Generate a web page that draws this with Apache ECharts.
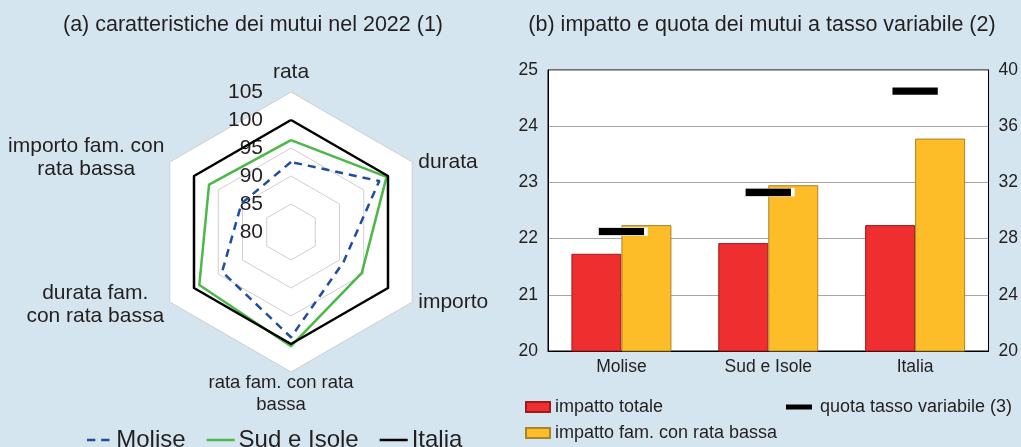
<!DOCTYPE html>
<html>
<head>
<meta charset="utf-8">
<script src="https://cdn.jsdelivr.net/npm/echarts@6/dist/echarts.min.js"></script>
<style>
html,body{margin:0;padding:0;background:#d4e5ef;}
#c{width:1021px;height:447px;}
</style>
</head>
<body>
<div id="c"></div>
<script>
// ---- Panel (a): radar, indicators listed clockwise from top ----
const radarIndicators = ['rata', 'durata', 'importo', 'rata fam. con rata\nbassa', 'durata fam.\ncon rata bassa', 'importo fam. con\nrata bassa'];
const radarMolise = [92.5, 98.2, 90.8, 98.8, 94.2, 90.2];
const radarSud = [96.4, 99.7, 94.6, 100.4, 98.9, 96.9];
const radarItalia = [100, 100, 100, 100, 100, 100];
const radarTicks = [80, 85, 90, 95, 100, 105];

// ---- Panel (b): bars + dashes ----
const barCategories = ['Molise', 'Sud e Isole', 'Italia'];
const impattoTotale = [21.73, 21.92, 22.24];
const impattoFamRataBassa = [22.24, 22.95, 23.78];
const quotaTassoVariabile = [28.5, 31.3, 38.5];

const FONT = 'Liberation Sans, Arial, sans-serif';
const TXT = '#231f20';

// ECharts draws radar indicators counter-clockwise; reorder clockwise list
const ccw = [0, 5, 4, 3, 2, 1];
const reorder = arr => ccw.map(i => arr[i]);

const nameStyles = [
  {padding: [0, 0, 8, 0]},                                   // rata
  {padding: [0, 0, 10, 6]},                                  // durata
  {padding: [6, 0, 0, 6]},                                   // importo
  {padding: [0, 20, 0, 0], fontSize: 18.5, lineHeight: 22},  // rata fam.
  {padding: [6, 0, 0, 0], richW: 149},                       // durata fam.
  {padding: [0, 0, 8, 0], richW: 167}                        // importo fam.
];

const indicators = ccw.map((i, k) => {
  const s = nameStyles[i];
  const name = radarIndicators[i];
  const ind = {name: name, min: radarTicks[0], max: radarTicks[radarTicks.length - 1]};
  const nts = {padding: s.padding};
  if (s.fontSize) { nts.fontSize = s.fontSize; nts.lineHeight = s.lineHeight; }
  if (s.richW) {
    ind.name = name.split('\n').map(l => '{c|' + l + '}').join('\n');
    nts.rich = {c: {width: s.richW, align: 'center', fontSize: 21, fontFamily: FONT, color: TXT, lineHeight: 23}};
  }
  ind.nameTextStyle = nts;
  if (k === 0) {
    ind.axisLabel = {show: true};
  }
  return ind;
});

const chart = echarts.init(document.getElementById('c'));
chart.setOption({
  backgroundColor: '#d4e5ef',
  animation: false,
  textStyle: {fontFamily: FONT},
  title: [
    {text: '(a) caratteristiche dei mutui nel 2022 (1)', left: 253, top: 14, textAlign: 'center', padding: 0,
     textStyle: {fontSize: 21.5, fontWeight: 'normal', color: TXT, fontFamily: FONT}},
    {text: '(b) impatto e quota dei mutui a tasso variabile (2)', left: 762, top: 14, textAlign: 'center', padding: 0,
     textStyle: {fontSize: 21.5, fontWeight: 'normal', color: TXT, fontFamily: FONT}}
  ],
  legend: [
    {
      data: [
        {name: 'Molise', icon: 'path://M0,0h10v3h-10zM17,0h10v3h-10z'},
        {name: 'Sud e Isole', icon: 'rect'},
        {name: 'Italia', icon: 'rect'}
      ],
      left: 87, top: 428, padding: 0, itemWidth: 28, itemHeight: 2.5, itemGap: 21,
      textStyle: {fontSize: 24, color: TXT, fontFamily: FONT, lineHeight: 24, padding: [0, 0, 0, -1]}
    },
    {
      data: ['impatto totale', 'impatto fam. con rata bassa'],
      orient: 'vertical', left: 525, top: 398, padding: 0, itemWidth: 24, itemHeight: 10, itemGap: 8,
      icon: 'rect',
      textStyle: {fontSize: 18, color: TXT, fontFamily: FONT, lineHeight: 18}
    },
    {
      data: [{name: 'quota tasso variabile (3)', icon: 'rect'}],
      left: 786, top: 398, padding: 0, itemWidth: 26, itemHeight: 5,
      itemStyle: {borderWidth: 0},
      textStyle: {fontSize: 18, color: TXT, fontFamily: FONT, lineHeight: 18, padding: [0, 0, 0, 3]}
    }
  ],
  radar: {
    center: [291, 232],
    radius: 140,
    splitNumber: radarTicks.length - 1,
    indicator: indicators,
    nameGap: 0,
    axisName: {color: TXT, fontSize: 21, fontFamily: FONT, lineHeight: 23},
    axisLine: {show: false},
    axisTick: {show: false},
    axisLabel: {show: false, fontSize: 21, color: '#231f20', margin: 28, fontFamily: FONT},
    splitLine: {lineStyle: {color: '#cfcfcf', width: 1}},
    splitArea: {show: true, areaStyle: {color: ['#ffffff']}}
  },
  grid: {
    left: 548, right: 32, top: 70, bottom: 96,
    show: true, backgroundColor: '#ffffff', borderColor: '#000', borderWidth: 1
  },
  xAxis: {
    type: 'category', data: barCategories,
    axisLine: {show: true, lineStyle: {color: '#000'}},
    axisTick: {show: false},
    axisLabel: {fontSize: 17.5, color: TXT, margin: 7, fontFamily: FONT}
  },
  yAxis: [
    {type: 'value', min: 20, max: 25, interval: 1,
     axisLine: {show: true, lineStyle: {color: '#000'}}, axisTick: {show: false},
     axisLabel: {fontSize: 17.5, color: TXT, margin: 10, fontFamily: FONT},
     splitLine: {lineStyle: {color: '#a6a6a6', width: 1}}},
    {type: 'value', min: 20, max: 40, interval: 4,
     axisLine: {show: true, lineStyle: {color: '#000'}}, axisTick: {show: false},
     axisLabel: {fontSize: 17.5, color: TXT, margin: 10, fontFamily: FONT},
     splitLine: {show: false}}
  ],
  series: [
    {
      type: 'radar',
      symbol: 'none',
      data: [
        {name: 'Molise', value: reorder(radarMolise),
         lineStyle: {color: '#1f4e9e', width: 2.5, type: [8, 6]}, itemStyle: {color: '#1f4e9e'}},
        {name: 'Sud e Isole', value: reorder(radarSud),
         lineStyle: {color: '#4cb848', width: 2.5}, itemStyle: {color: '#4cb848'}},
        {name: 'Italia', value: reorder(radarItalia),
         lineStyle: {color: '#000000', width: 2.5}, itemStyle: {color: '#000000'}}
      ]
    },
    {
      name: 'impatto totale', type: 'bar', data: impattoTotale,
      barWidth: 50, barGap: '0%',
      itemStyle: {color: '#ee2e2f', borderColor: '#9e1b1d', borderWidth: 1}
    },
    {
      name: 'impatto fam. con rata bassa', type: 'bar', data: impattoFamRataBassa,
      barWidth: 50, barGap: '0%',
      itemStyle: {color: '#fdbd29', borderColor: '#a8832a', borderWidth: 1}
    },
    {
      name: 'quota tasso variabile (3)', type: 'scatter', yAxisIndex: 1, data: quotaTassoVariabile,
      symbol: 'rect', symbolSize: [49, 8], z: 5,
      itemStyle: {color: '#000', borderColor: '#fff', borderWidth: 1.5, opacity: 1}
    }
  ]
});
</script>
</body>
</html>
